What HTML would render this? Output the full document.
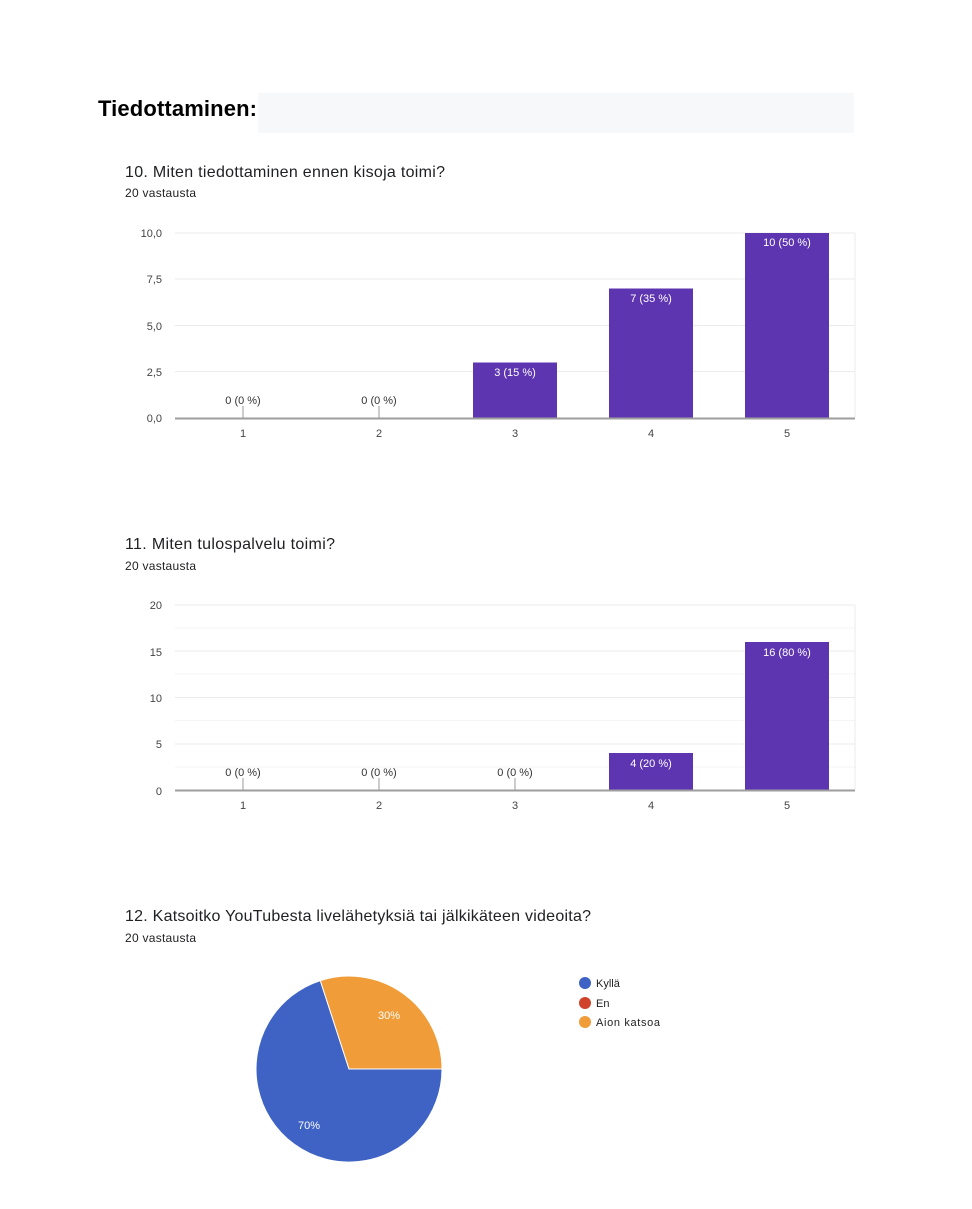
<!DOCTYPE html>
<html><head><meta charset="utf-8"><style>
html,body{margin:0;padding:0;background:#fff;}
svg{display:block;font-family:"Liberation Sans",Arial,sans-serif;}
</style></head><body>
<svg width="972" height="1209" viewBox="0 0 972 1209" xmlns="http://www.w3.org/2000/svg">
<rect x="258" y="93" width="596" height="40" fill="#f7f8f9"/>
<text x="98" y="116" font-size="22" font-weight="bold" fill="#000" textLength="159">Tiedottaminen:</text>

<text x="125" y="177" font-size="16" fill="#202124" textLength="320">10. Miten tiedottaminen ennen kisoja toimi?</text>
<text x="125" y="197" font-size="12" fill="#202124" textLength="71">20 vastausta</text>
<g stroke="#ebebeb" stroke-width="1">
<line x1="175" y1="233" x2="855" y2="233"/><line x1="175" y1="279" x2="855" y2="279"/>
<line x1="175" y1="325.5" x2="855" y2="325.5"/><line x1="175" y1="371.5" x2="855" y2="371.5"/>
<line x1="855" y1="233" x2="855" y2="418"/>
</g>
<g font-size="11" fill="#444" text-anchor="end">
<text x="162" y="237">10,0</text><text x="162" y="283">7,5</text><text x="162" y="330">5,0</text><text x="162" y="376">2,5</text><text x="162" y="422">0,0</text>
</g>
<g fill="#5e35b1">
<rect x="473" y="362.5" width="84" height="55.5"/><rect x="609" y="288.5" width="84" height="129.5"/><rect x="745" y="233" width="84" height="185"/>
</g>
<g stroke="#999"><line x1="243" y1="406" x2="243" y2="418"/><line x1="379" y1="406" x2="379" y2="418"/></g>
<line x1="175" y1="418.5" x2="855" y2="418.5" stroke="#9e9e9e" stroke-width="2"/>
<g font-size="11" text-anchor="middle">
<text x="243" y="404" fill="#333">0 (0 %)</text><text x="379" y="404" fill="#333">0 (0 %)</text>
<text x="515" y="376" fill="#fff">3 (15 %)</text><text x="651" y="302" fill="#fff">7 (35 %)</text><text x="787" y="246" fill="#fff">10 (50 %)</text>
</g>
<g font-size="11" fill="#444" text-anchor="middle">
<text x="243" y="437">1</text><text x="379" y="437">2</text><text x="515" y="437">3</text><text x="651" y="437">4</text><text x="787" y="437">5</text>
</g>

<text x="125" y="549" font-size="16" fill="#202124" textLength="210">11. Miten tulospalvelu toimi?</text>
<text x="125" y="570" font-size="12" fill="#202124" textLength="71">20 vastausta</text>
<g stroke="#ebebeb" stroke-width="1">
<line x1="175" y1="605" x2="855" y2="605"/><line x1="175" y1="628" x2="855" y2="628" stroke="#f5f5f5"/>
<line x1="175" y1="651" x2="855" y2="651"/><line x1="175" y1="674" x2="855" y2="674" stroke="#f5f5f5"/>
<line x1="175" y1="697.5" x2="855" y2="697.5"/><line x1="175" y1="720.5" x2="855" y2="720.5" stroke="#f5f5f5"/>
<line x1="175" y1="744" x2="855" y2="744"/><line x1="175" y1="767" x2="855" y2="767" stroke="#f5f5f5"/>
<line x1="855" y1="605" x2="855" y2="790"/>
</g>
<g font-size="11" fill="#444" text-anchor="end">
<text x="162" y="609">20</text><text x="162" y="656">15</text><text x="162" y="702">10</text><text x="162" y="748">5</text><text x="162" y="795">0</text>
</g>
<g fill="#5e35b1">
<rect x="609" y="753" width="84" height="37"/><rect x="745" y="642" width="84" height="148"/>
</g>
<g stroke="#999"><line x1="243" y1="778" x2="243" y2="790"/><line x1="379" y1="778" x2="379" y2="790"/><line x1="515" y1="778" x2="515" y2="790"/></g>
<line x1="175" y1="790.5" x2="855" y2="790.5" stroke="#9e9e9e" stroke-width="2"/>
<g font-size="11" text-anchor="middle">
<text x="243" y="776" fill="#333">0 (0 %)</text><text x="379" y="776" fill="#333">0 (0 %)</text><text x="515" y="776" fill="#333">0 (0 %)</text>
<text x="651" y="767" fill="#fff">4 (20 %)</text><text x="787" y="656" fill="#fff">16 (80 %)</text>
</g>
<g font-size="11" fill="#444" text-anchor="middle">
<text x="243" y="809">1</text><text x="379" y="809">2</text><text x="515" y="809">3</text><text x="651" y="809">4</text><text x="787" y="809">5</text>
</g>

<text x="125" y="921" font-size="16" fill="#202124" textLength="466">12. Katsoitko YouTubesta livelähetyksiä tai jälkikäteen videoita?</text>
<text x="125" y="942" font-size="12" fill="#202124" textLength="71">20 vastausta</text>
<path d="M349,1069 L442,1069 A93,93 0 1 1 320.3,980.6 Z" fill="#3f63c4" stroke="#fff" stroke-width="1"/>
<path d="M349,1069 L320.3,980.6 A93,93 0 0 1 442,1069 Z" fill="#f09c38" stroke="#fff" stroke-width="1"/>
<text x="389" y="1019" font-size="11" fill="#fff" text-anchor="middle">30%</text>
<text x="309" y="1129" font-size="11" fill="#fff" text-anchor="middle">70%</text>
<circle cx="585" cy="983" r="6" fill="#3f63c4"/><text x="596" y="987" font-size="11" fill="#222">Kyllä</text>
<circle cx="585" cy="1003" r="6" fill="#d0432a"/><text x="596" y="1007" font-size="11" fill="#222">En</text>
<circle cx="585" cy="1022" r="6" fill="#f09c38"/><text x="596" y="1026" font-size="11" fill="#222" textLength="64">Aion katsoa</text>
</svg>
</body></html>
